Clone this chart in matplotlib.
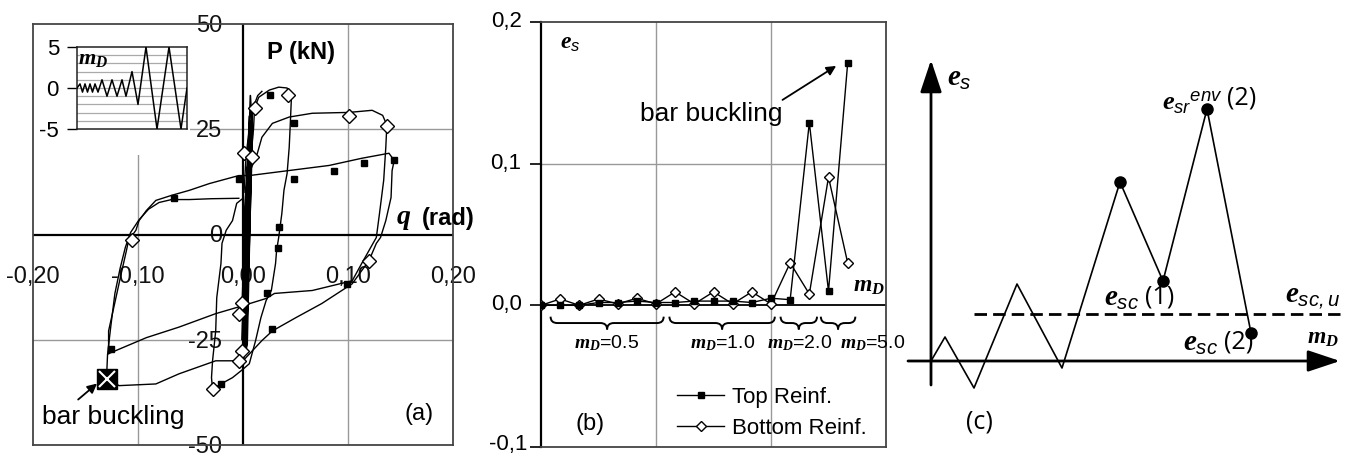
import numpy as np
import matplotlib
matplotlib.use("Agg")
import matplotlib.pyplot as plt
from matplotlib.path import Path
from matplotlib.patches import PathPatch, Rectangle
from matplotlib.transforms import ScaledTranslation

plt.rcParams['font.family'] = ['Liberation Sans', 'DejaVu Sans']
plt.rcParams['mathtext.fontset'] = 'custom'
plt.rcParams['mathtext.it'] = 'Liberation Serif:italic:bold'
plt.rcParams['mathtext.rm'] = 'Liberation Sans'
plt.rcParams['mathtext.sf'] = 'Liberation Sans:italic'

W, H = 1351, 457

# ---------------- panel (a) data: P - theta hysteresis ----------------
# dense small cycles (m_D = 0.5 and 1.0) around theta = 0
band_q = [0.000, 0.004, 0.006, 0.002, -0.001, 0.005, 0.008, 0.003, -0.001, 0.006,
          0.009, 0.004, 0.000, 0.007, 0.009, 0.003, 0.001, 0.006, 0.008, 0.002, 0.000, 0.005]
band_p = [0.0, 15.0, 20.0, -12.0, -18.0, 22.0, 26.0, -20.0, -25.0, 28.0,
          30.0, -26.0, -30.0, 33.0, 24.0, -28.0, -22.0, 18.0, 27.0, -24.0, -29.0, 10.0]

# m_D = 2.0 cycles
cyc2_q = [0.008, 0.010, 0.011, 0.015, 0.025, 0.034, 0.042, 0.046, 0.045, 0.044, 0.042, 0.039,
          0.037, 0.034, 0.032, 0.031, 0.027, 0.022, 0.017, 0.012, 0.006, 0.000, -0.010, -0.021,
          -0.029, -0.030, -0.029, -0.026, -0.025, -0.021, -0.020, -0.016, -0.010, -0.006, 0.000]
cyc2_p = [20.0, 25.0, 30.0, 32.6, 34.3, 35.0, 34.8, 31.9, 26.0, 20.7, 14.5, 10.5,
          5.0, -0.7, -3.8, -6.9, -13.3, -15.7, -19.8, -25.2, -30.7, -32.0, -34.0, -35.5,
          -36.7, -34.0, -30.0, -22.9, -15.0, -6.9, -2.1, 1.0, 3.3, 7.4, 8.6]
cyc2b_q = [0.001, 0.003, 0.006, 0.009, 0.011, 0.014, 0.018]
cyc2b_p = [10.0, 19.0, 25.0, 29.0, 31.0, 33.0, 34.0]

# m_D = 5.0, first cycle
cyc5a_q = [0.005, 0.0137, 0.018, 0.028, 0.044, 0.066, 0.101, 0.123, 0.133, 0.137, 0.136, 0.134,
           0.130, 0.127, 0.120, 0.113, 0.104, 0.066, 0.030, 0.022, 0.000, -0.026, -0.061,
           -0.092, -0.128]
cyc5a_p = [14.0, 19.3, 23.1, 26.4, 27.9, 28.8, 29.0, 29.5, 28.3, 26.0, 20.7, 12.9,
           5.0, -0.7, -3.8, -6.9, -11.0, -13.3, -14.0, -15.2, -16.9, -18.8, -22.0,
           -24.5, -28.3]

# m_D = 5.0, second cycle (ends with bar buckling)
cyc5b_q = [-0.128, -0.128, -0.121, -0.116, -0.111, -0.109, -0.102, -0.099, -0.092, -0.083,
           -0.068, -0.051, -0.032, -0.004, 0.006, 0.044, 0.082, 0.113, 0.139, 0.144, 0.142,
           0.141, 0.136, 0.131, 0.127, 0.120, 0.104, 0.075, 0.050, 0.028, 0.018, 0.000,
           -0.026, -0.061, -0.083, -0.118, -0.130]
cyc5b_p = [-28.3, -22.9, -15.0, -9.3, -3.8, -1.4, 1.0, 3.3, 5.7, 8.1,
           9.3, 10.5, 12.1, 14.0, 14.0, 15.2, 16.4, 18.1, 19.3, 17.6, 15.2,
           8.8, 3.3, -0.7, -2.1, -6.2, -11.7, -16.4, -19.8, -22.9, -25.2, -30.0,
           -30.0, -33.1, -35.5, -35.9, -34.3]

# reloading after buckling
cyc5c_q = [-0.130, -0.129, -0.126, -0.122, -0.117, -0.112, -0.107, -0.099, -0.090, -0.080,
           -0.068, -0.051, -0.030, -0.004]
cyc5c_p = [-34.3, -28.5, -22.0, -14.0, -8.0, -3.0, 0.5, 3.5, 6.0, 7.6,
           8.3, 8.3, 8.5, 8.6]

# bottom reinforcement markers (open diamonds) and top reinforcement markers (squares)
diam_q = [0.001, 0.009, 0.011, 0.043, 0.101, 0.137, 0.120, -0.001, -0.004, -0.001, -0.004, -0.029, -0.106]
diam_p = [19.3, 18.3, 30.0, 33.1, 28.1, 25.7, -6.2, -16.2, -19.0, -27.6, -30.0, -36.7, -1.4]
sq_q = [0.026, 0.049, 0.049, 0.087, 0.115, 0.144, -0.066, -0.004, 0.034, 0.033, 0.023, 0.028,
        -0.126, -0.021, 0.099]
sq_p = [33.1, 26.4, 13.3, 15.2, 16.9, 17.6, 8.6, 13.3, 1.7, -3.3, -14.0, -22.4,
        -27.1, -35.5, -11.7]
buckle_q = [-0.130]
buckle_p = [-34.3]

a_xticks = [-0.2, -0.1, 0.0, 0.1, 0.2]
a_xticklabels = ['-0,20', '-0,10', '0,00', '0,10', '0,20']
a_yticks = [50, 25, 0, -25, -50]
a_yticklabels = ['50', '25', '0', '-25', '-50']

# inset: displacement history
inset_t = [0, 3, 5.5, 8, 10.5, 13, 15.5, 18, 21, 25, 30, 35, 40, 45, 49, 55, 61, 69, 80, 92, 104, 110]
inset_m = [0, 0.5, -0.5, 0.5, -0.5, 0.5, -0.5, 0.5, -0.5, 1, -1, 1, -1, 1, -1, 2, -2, 5, -5, 5, -5, 0]

# ---------------- panel (b) data: strain per half cycle ----------------
b_cycle = list(range(17))
b_top = [0.0, 0.0, 0.0, 0.002, 0.002, 0.003, 0.002, 0.002, 0.003, 0.003, 0.003, 0.002,
         0.005, 0.004, 0.129, 0.010, 0.171]
b_bottom = [0.0, 0.0045, 0.0, 0.0045, 0.001, 0.005, 0.001, 0.0095, 0.001, 0.0095, 0.001, 0.0095,
            0.001, 0.030, 0.008, 0.0905, 0.030]
b_yticks = [-0.1, 0.0, 0.1, 0.2]
b_yticklabels = ['-0,1', '0,0', '0,1', '0,2']
brace_spans = [(0.5, 6.4), (6.7, 12.2), (12.5, 14.4), (14.6, 16.4)]
brace_labels = [r'$m_D$=0.5', r'$m_D$=1.0', r'$m_D$=2.0', r'$m_D$=5.0']
brace_label_x = [3.4, 9.5, 13.5, 17.3]

# ---------------- panel (c) data: schematic ----------------
c_x = [0, 14, 43, 86, 131, 189, 232, 276, 320]
c_y = [0, 24, -27, 77, -7, 179, 80, 252, 28]
c_dot_x = [189, 232, 276, 320]
c_dot_y = [179, 80, 252, 28]
c_limit = 47

fig = plt.figure(figsize=(W / 100, H / 100), dpi=100)

# ======== panel (a) ========
ax = fig.add_axes([33 / W, (H - 445) / H, 420 / W, 421 / H])
ax.set_xlim(-0.2, 0.2)
ax.set_ylim(-50, 50)
ax.set_xticks([])
ax.set_yticks([])
for s in ax.spines.values():
    s.set_color('#444444')
    s.set_linewidth(1.3)
for v in [-0.1, 0.1]:
    ax.axvline(v, color='#999999', lw=1, zorder=1)
for v in [-25, 25]:
    ax.axhline(v, color='#999999', lw=1, zorder=1)
ax.axvline(0, color='black', lw=1.6, zorder=2)
ax.axhline(0, color='black', lw=1.6, zorder=2)
ax.add_patch(Rectangle((0, (445 - 155) / 421), 0.375, 1 - (445 - 155) / 421,
                       transform=ax.transAxes, facecolor='white', edgecolor='none', zorder=1.5))

for xv, lab in zip(a_xticks, a_xticklabels):
    ax.annotate(lab, xy=(xv, 0), xytext=(0, -42), textcoords='offset pixels',
                ha='center', va='center', fontsize=17, color='#111111', zorder=1.8,
                annotation_clip=False)
for yv, lab in zip(a_yticks, a_yticklabels):
    ax.annotate(lab, xy=(0, yv), xytext=(-21, -2), textcoords='offset pixels',
                ha='right', va='center', fontsize=17, color='#111111', zorder=1.8,
                annotation_clip=False)

ax.plot(band_q, band_p, color='black', lw=1.2, zorder=3)
for qs, ps in [(cyc2_q, cyc2_p), (cyc2b_q, cyc2b_p), (cyc5a_q, cyc5a_p),
               (cyc5b_q, cyc5b_p), (cyc5c_q, cyc5c_p)]:
    ax.plot(qs, ps, color='black', lw=1.0, zorder=3)
ax.plot(sq_q, sq_p, 's', color='black', ms=4, ls='none', zorder=4)
ax.plot(diam_q, diam_p, 'D', mfc='white', mec='black', mew=1, ms=7, ls='none', zorder=4)
ax.plot(buckle_q, buckle_p, 's', color='black', ms=14, zorder=5)
ax.plot(buckle_q, buckle_p, 'x', color='white', ms=11, mew=1.5, zorder=6)

ax.text(0.023, 43.3, 'P (kN)', fontsize=17, fontweight='bold', ha='left', va='center')
ax.text(0.146, 3.8, r'$q$', fontsize=20, ha='left', va='center', clip_on=False)
ax.text(0.170, 3.8, '(rad)', fontsize=17, fontweight='bold', ha='left', va='center', clip_on=False)
ax.text(-0.191, -45.0, 'bar buckling', fontsize=19, ha='left', va='baseline')
ax.annotate('', xy=(-0.139, -35.4), xytext=(-0.157, -39.2),
            arrowprops=dict(arrowstyle='-|>', color='black', lw=1.3, mutation_scale=14,
                            shrinkA=0, shrinkB=0))
ax.text(0.168, -42.6, '(a)', fontsize=17, ha='center', va='center')

# inset
ins = fig.add_axes([77 / W, (H - 129) / H, 110 / W, 82 / H])
ins.set_xlim(0, 110)
ins.set_ylim(-5, 5)
for v in range(-4, 5):
    ins.axhline(v, color='#aaaaaa', lw=0.9, zorder=1)
ins.plot(inset_t, inset_m, color='black', lw=1.1, zorder=3)
ins.set_xticks([])
ins.set_yticks([5, 0, -5])
ins.set_yticklabels(['5', '0', '-5'], fontsize=16)
ins.tick_params(axis='y', direction='out', length=7, width=1, pad=6)
for s in ins.spines.values():
    s.set_color('#222222')
    s.set_linewidth(1.1)
ins.text(1.5, 3.6, r'$m_D$', fontsize=16, ha='left', va='center')

# ======== panel (b) ========
bx = fig.add_axes([541 / W, (H - 447) / H, 345 / W, 425 / H])
bx.set_xlim(0, 18)
bx.set_ylim(-0.1, 0.2)
bx.set_xticks([])
bx.set_yticks(b_yticks)
bx.set_yticklabels(b_yticklabels, fontsize=16)
bx.tick_params(axis='y', direction='out', length=8, width=1.2, pad=6)
# lift the labels a touch, as in the original (keeps "-0,1" inside the figure)
for lbl in bx.get_yticklabels():
    lbl.set_transform(lbl.get_transform() + ScaledTranslation(0, 3 / 100, fig.dpi_scale_trans))
bx.get_yticklabels()[0].set_transform(
    bx.get_yaxis_transform(which='tick1') + ScaledTranslation(-14 / 100, 5 / 100, fig.dpi_scale_trans))
for s in bx.spines.values():
    s.set_color('#444444')
    s.set_linewidth(1.3)
bx.spines['left'].set_color('black')
bx.spines['left'].set_linewidth(1.6)
for v in [6, 12]:
    bx.axvline(v, color='#999999', lw=1, zorder=1)
bx.axhline(0.1, color='#999999', lw=1, zorder=1)
bx.axhline(0.0, color='black', lw=1.3, zorder=2)

bx.plot(b_cycle, b_top, '-s', color='black', lw=1, ms=5, label='Top Reinf.', zorder=4)
bx.plot(b_cycle, b_bottom, '-D', color='black', mfc='white', mec='black', lw=1, ms=5,
        label='Bottom Reinf.', zorder=3)

for (x0, x1) in brace_spans:
    xm = (x0 + x1) / 2
    r = 0.35
    yt, ym, yb = -0.008, -0.0125, -0.017
    verts = [(x0, yt), (x0, ym), (x0 + r, ym), (xm - r, ym), (xm, ym), (xm, yb),
             (xm, ym), (xm + r, ym), (x1 - r, ym), (x1, ym), (x1, yt)]
    codes = [Path.MOVETO, Path.CURVE3, Path.CURVE3, Path.LINETO, Path.CURVE3, Path.CURVE3,
             Path.CURVE3, Path.CURVE3, Path.LINETO, Path.CURVE3, Path.CURVE3]
    bx.add_patch(PathPatch(Path(verts, codes), facecolor='none', edgecolor='black', lw=1.4))
for xl, lab in zip(brace_label_x, brace_labels):
    bx.text(xl, -0.027, lab, fontsize=14, ha='center', va='center', clip_on=False)

bx.text(1.0, 0.185, r'$e_{\mathsf{s}}$', fontsize=17, ha='left', va='center')
bx.text(5.16, 0.130, 'bar buckling', fontsize=19, ha='left', va='baseline')
bx.annotate('', xy=(15.4, 0.169), xytext=(12.6, 0.145),
            arrowprops=dict(arrowstyle='-|>', color='black', lw=1.3, mutation_scale=14,
                            shrinkA=0, shrinkB=0))
bx.text(16.3, 0.0135, r'$m_D$', fontsize=17, ha='left', va='center')
bx.text(2.55, -0.084, '(b)', fontsize=17, ha='center', va='center')
bx.legend(loc='lower left', bbox_to_anchor=(0.395, 0.02), frameon=False, fontsize=16,
          handlelength=2.1, handletextpad=0.35, labelspacing=0.45, borderpad=0,
          borderaxespad=0)

# ======== panel (c) ========
cx = fig.add_axes([905 / W, 0, 446 / W, 1])
cx.set_xlim(-26, 420)
cx.set_ylim(-96, 361)
cx.axis('off')
arrow = dict(arrowstyle='-|>,head_length=0.9,head_width=0.3', color='black', lw=2,
             mutation_scale=22, shrinkA=0, shrinkB=0)
cx.annotate('', xy=(0, 301), xytext=(0, -24), arrowprops=arrow)
cx.annotate('', xy=(409, 0), xytext=(-23, 0), arrowprops=arrow)
cx.plot([43, 409], [c_limit, c_limit], color='black', lw=2, ls=(0, (4.5, 2.2)))
cx.plot(c_x, c_y, color='black', lw=1.2)
cx.plot(c_dot_x, c_dot_y, 'o', color='black', ms=8)

cf = 'Open Sans'
cx.text(16, 283, r'$e_{\mathsf{s}}$', fontsize=21, ha='left', va='center')
cx.text(231, 258, r'${e_{\mathsf{sr}}}^{\mathsf{env}}$', fontsize=19, ha='left', va='center')
cx.text(296, 263, '(2)', fontsize=18, family=cf, ha='left', va='center')
cx.text(173, 63, r'$e_{\mathsf{sc}}$', fontsize=21, ha='left', va='center')
cx.text(214, 64, '(1)', fontsize=18, family=cf, ha='left', va='center')
cx.text(354, 64, r'$e_{\mathsf{sc,u}}$', fontsize=21, ha='left', va='center')
cx.text(252, 18, r'$e_{\mathsf{sc}}$', fontsize=21, ha='left', va='center')
cx.text(293, 19, '(2)', fontsize=18, family=cf, ha='left', va='center')
cx.text(376, 23, r'$m_D$', fontsize=17, ha='left', va='center')
cx.text(48, -61, '(c)', fontsize=18, family=cf, ha='center', va='center')

fig.savefig('out.png', dpi=100)
